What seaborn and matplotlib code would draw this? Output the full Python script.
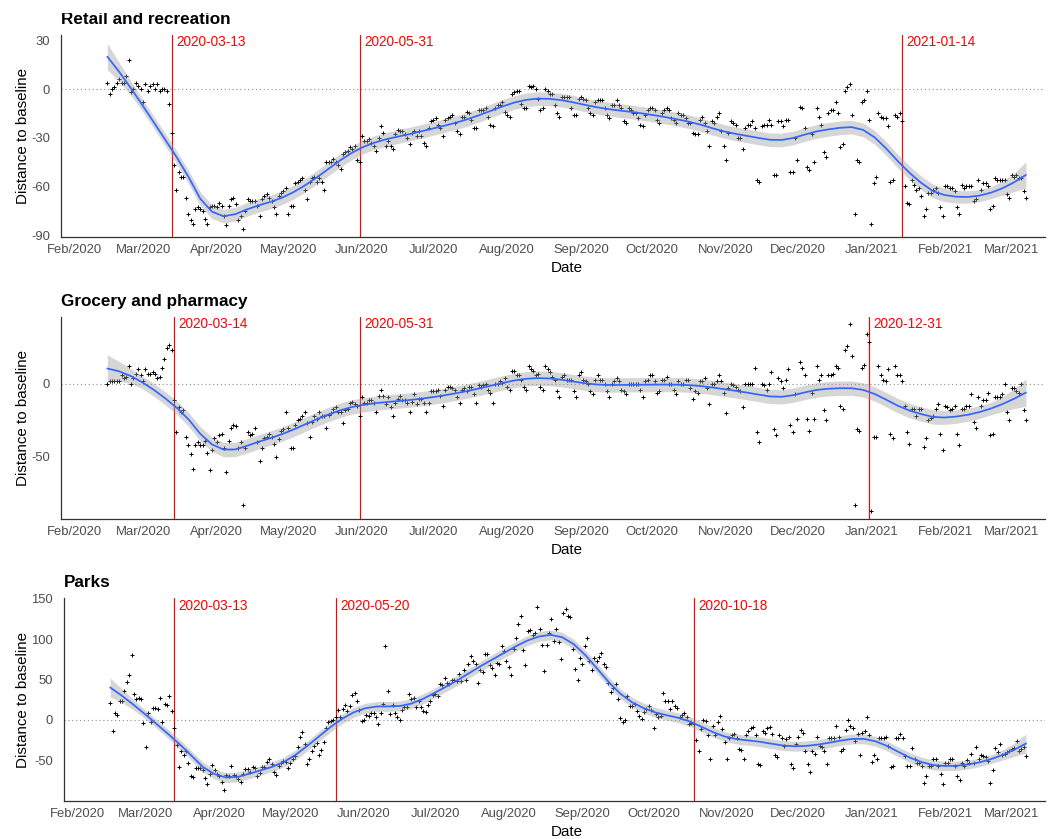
import numpy as np
import pandas as pd
import matplotlib
matplotlib.use("Agg")
import matplotlib.pyplot as plt
import matplotlib.dates as mdates
import matplotlib.transforms as mtransforms
import seaborn as sns

# ---------------------------------------------------------------------------
# Daily mobility change (% vs. baseline), 2020-02-15 .. 2021-03-07
# ---------------------------------------------------------------------------
START = "2020-02-15"

# Retail and recreation
r_feb20 = [4, -3, 0, 1, 4, 6, 4, 4, 8, 18, -2, 0, 4, 2, 0]
r_mar20 = [-8, 3, -1, 2, 3, 0, 3, -1, 0, 0, -1, -9, -27, -47, -62, -51, -54, -54, -67, -77,
           -81, -83, -74, -73, -74, -75, -80, -83, -73, -72, -72]
r_apr20 = [-73, -70, -72, -78, -84, -72, -68, -67, -71, -81, -78, -86, -75, -68, -69, -69, -69,
           -72, -78, -68, -66, -65, -67, -69, -73, -77, -66, -64, -63, -61]
r_may20 = [-77, -72, -72, -58, -57, -56, -55, -62, -68, -57, -55, -54, -57, -55, -57, -62, -45,
           -45, -45, -43, -45, -47, -49, -40, -39, -38, -36, -37, -35, -44, -45]
r_jun20 = [-29, -32, -32, -31, -33, -35, -38, -30, -23, -27, -35, -32, -35, -37, -28, -25, -26,
           -26, -28, -30, -34, -27, -26, -29, -26, -29, -33, -35, -24, -20]
r_jul20 = [-19, -18, -22, -24, -29, -19, -18, -17, -16, -21, -26, -28, -17, -17, -14, -15, -19,
           -24, -24, -13, -13, -13, -12, -17, -22, -23, -12, -10, -10, -8, -14]
r_aug20 = [-16, -17, -3, -2, -1, -1, -9, -12, -12, 2, 1, 2, 0, -6, -13, -12, 0, -1, -3, -3,
           -10, -15, -17, -5, -5, -5, -5, -12, -16, -16, -6]
r_sep20 = [-5, -6, -7, -12, -15, -16, -8, -7, -7, -7, -12, -16, -18, -10, -10, -7, -10, -12,
           -20, -21, -12, -13, -15, -15, -18, -22, -23, -16, -13, -12]
r_oct20 = [-12, -13, -19, -21, -15, -13, -12, -13, -18, -19, -21, -15, -16, -16, -18, -21, -21,
           -27, -28, -28, -19, -17, -21, -26, -35, -20, -21, -17, -15, -26, -35]
r_nov20 = [-44, -27, -20, -21, -22, -30, -30, -37, -24, -22, -22, -20, -24, -56, -57, -23, -22,
           -22, -19, -22, -53, -53, -20, -20, -23, -19, -19, -51, -51, -30]
r_dec20 = [-44, -11, -12, -24, -48, -50, -28, -45, -12, -17, -22, -39, -42, -15, -13, -13, -8,
           -15, -36, -34, -1, 1, 3, -16, -77, -44, -45, -8, -7, -1, -19]
r_jan21 = [-83, -58, -54, -15, -17, -18, -18, -23, -57, -56, -16, -17, -15, -20, -60, -70, -71,
           -56, -59, -62, -61, -66, -78, -74, -64, -64, -62, -61, -64, -73, -78]
r_feb21 = [-60, -60, -61, -61, -63, -73, -77, -59, -61, -60, -60, -60, -69, -68, -56, -62, -58,
           -58, -60, -74, -72, -55, -56, -56, -56, -56, -65, -67]
r_mar21 = [-53, -54, -53, -55, -55, -63, -67]

# Grocery and pharmacy
g_feb20 = [0, 2, 2, 2, 2, 2, 6, 4, 5, 12, 0, 4, 7, 10, 6]
g_mar20 = [2, 10, 7, 7, 8, 7, 4, 5, 11, 17, 25, 27, 23, -11, -33, -16, -19, -18, -36, -42,
           -48, -58, -42, -40, -42, -42, -39, -47, -59, -45, -37]
g_apr20 = [-40, -35, -34, -44, -60, -39, -30, -28, -29, -44, -40, -83, -44, -33, -35, -34, -30,
           -40, -53, -44, -37, -36, -34, -36, -41, -50, -38, -32, -31, -19]
g_may20 = [-30, -44, -44, -28, -25, -24, -22, -19, -27, -36, -26, -22, -24, -19, -22, -22, -30,
           -21, -20, -17, -16, -19, -19, -27, -18, -17, -13, -12, -14, -15, -22]
g_jun20 = [-9, -13, -13, -11, -11, -13, -19, -8, -4, -8, -14, -9, -16, -22, -13, -10, -8, -11,
           -11, -13, -19, -12, -7, -14, -10, -10, -13, -19, -13, -5]
g_jul20 = [-5, -5, -4, -8, -15, -4, -2, -2, -3, -4, -9, -13, -4, -3, -5, -2, -2, -7, -13, -1,
           -2, -1, 0, -4, -6, -13, 0, 0, 2, 1, 4]
g_aug20 = [-2, -4, 9, 9, 6, 6, 3, -2, -4, 12, 10, 9, 6, 7, -2, -4, 12, 10, 8, 5, 3, -5, -9, 5,
           6, 3, 3, 3, -5, -9, 6]
g_sep20 = [8, 3, 2, 0, -5, -7, 3, 6, 3, 3, 0, -5, -9, 0, 2, 4, 2, -4, -5, -7, 0, 0, 0, 0, 0,
           -4, -9, 2, 3, 6]
g_oct20 = [6, 2, -6, -5, 3, 3, 5, 0, 0, -4, -7, 2, 0, 0, 3, 3, -3, -10, -5, -6, 2, 2, 4, -3,
           -14, 0, 0, 2, 6, 2, -6]
g_nov20 = [-20, -3, 0, -1, -2, -4, -5, -16, 0, 0, 0, 0, 11, -33, -40, 0, -1, -4, 0, 8, -31,
           -35, 4, 2, -3, 3, 10, -28, -33, -7]
g_dec20 = [-24, 15, 11, 6, -24, -32, -6, -24, 12, 3, 6, -18, -25, 6, 6, 7, 12, 11, -15, -17,
           23, 26, 41, 19, -83, -31, -32, 11, 13, 34, 29]
g_jan21 = [-87, -36, -36, 12, 6, 3, 2, 10, -34, -37, 12, 6, 6, 2, -15, -33, -41, -17, -17,
           -22, -17, -17, -43, -37, -25, -23, -22, -17, -14, -34, -45]
g_feb21 = [-15, -16, -18, -17, -15, -34, -42, -17, -17, -15, -15, -7, -26, -30, -9, -15, -11,
           -11, -6, -35, -34, -9, -9, -9, -7, 0, -19, -25]
g_mar21 = [-3, -3, -5, -6, 0, -18, -25]

# Parks
p_feb20 = [21, -14, 8, 6, 24, 24, 36, 47, 55, 80, 32, 26, 27, 26, -4]
p_mar20 = [-33, 8, -3, 15, 15, 14, 27, -3, 20, 19, 29, 11, -10, -31, -58, -39, -44, -38, -53,
           -69, -71, -59, -59, -59, -62, -72, -80, -67, -56, -62, -67]
p_apr20 = [-69, -77, -87, -68, -69, -57, -68, -69, -73, -77, -67, -61, -61, -64, -58, -60, -70,
           -66, -58, -58, -52, -48, -55, -64, -68, -57, -54, -51, -52, -60]
p_may20 = [-54, -49, -45, -34, -21, -15, -30, -55, -48, -38, -32, -29, -43, -37, -27, -10, -3,
           -1, 0, 3, 12, 3, 13, 19, 11, 17, 31, 33, 24, 12, -2]
p_jun20 = [0, 6, 5, 8, 9, 4, -5, 8, 20, 92, 36, 7, 18, 8, 3, 0, 12, 16, 16, 32, 26, 27, 16, 24,
           16, 11, 10, 19, 24, 31]
p_jul20 = [32, 29, 44, 43, 52, 46, 45, 49, 50, 48, 57, 48, 62, 50, 69, 79, 73, 69, 46, 62, 59,
           82, 82, 68, 64, 55, 70, 69, 92, 85, 73]
p_aug20 = [65, 55, 88, 101, 119, 129, 86, 68, 110, 111, 105, 108, 140, 112, 93, 60, 93, 108,
           125, 98, 112, 97, 75, 133, 137, 129, 127, 88, 63, 50, 77]
p_sep20 = [69, 92, 102, 73, 62, 77, 73, 78, 83, 69, 65, 46, 35, 40, 44, 26, 2, -3, 0, 29, 17,
           17, 20, 11, 5, 1, 10, 14, 17, 12]
p_oct20 = [-10, 7, 4, 5, 33, 24, 24, 14, 24, 17, 15, 4, 6, 9, 4, -5, -4, -5, -25, -38, -11, 0,
           -2, -19, -48, -7, -19, -3, 5, -11, -27]
p_nov20 = [-48, -23, -19, -18, -23, -36, -37, -48, -19, -14, -10, -9, -19, -55, -56, -14, -16,
           -10, -9, -17, -43, -46, -19, -23, -32, -24, -21, -55, -60, -30]
p_dec20 = [-21, -12, -16, -39, -55, -64, -38, -42, -21, -32, -33, -39, -55, -23, -23, -22, -7,
           -21, -39, -36, -12, 0, -7, -10, -26, -18, -43, -16, -14, 3, -19]
p_jan21 = [-52, -43, -48, -22, -22, -22, -21, -32, -58, -57, -22, -23, -17, -23, -45, -57, -57,
           -35, -48, -53, -54, -57, -78, -69, -57, -57, -48, -48, -57, -67, -79]
p_feb21 = [-54, -54, -48, -49, -57, -69, -75, -53, -57, -50, -53, -42, -53, -33, -48, -43, -45,
           -46, -51, -78, -62, -35, -40, -30, -43, -42, -40, -39]
p_mar21 = [-36, -35, -26, -39, -36, -33, -45]

retail = (r_feb20 + r_mar20 + r_apr20 + r_may20 + r_jun20 + r_jul20 + r_aug20 + r_sep20
          + r_oct20 + r_nov20 + r_dec20 + r_jan21 + r_feb21 + r_mar21)
grocery = (g_feb20 + g_mar20 + g_apr20 + g_may20 + g_jun20 + g_jul20 + g_aug20 + g_sep20
           + g_oct20 + g_nov20 + g_dec20 + g_jan21 + g_feb21 + g_mar21)
parks = (p_feb20 + p_mar20 + p_apr20 + p_may20 + p_jun20 + p_jul20 + p_aug20 + p_sep20
         + p_oct20 + p_nov20 + p_dec20 + p_jan21 + p_feb21 + p_mar21)

titles = ["Retail and recreation", "Grocery and pharmacy", "Parks"]
series = [retail, grocery, parks]
events = [["2020-03-13", "2020-05-31", "2021-01-14"],
          ["2020-03-14", "2020-05-31", "2020-12-31"],
          ["2020-03-13", "2020-05-20", "2020-10-18"]]
y_ticks = [[30, 0, -30, -60, -90], [0, -50], [150, 100, 50, 0, -50]]
y_limits = [(-91.2, 33.3), (-92.5, 45.9), (-100.5, 151.0)]

for name, s in zip(titles, series):
    assert len(s) == 387, (name, len(s))


def loess(x, y, xs, span=0.2):
    """Local quadratic regression with tricube weights and pointwise 95% band."""
    n = len(x)
    q = int(np.floor(n * span))

    def operator(points):
        L = np.empty((len(points), n))
        for k, x0 in enumerate(points):
            d = np.abs(x - x0)
            h = np.sort(d)[q - 1]
            w = np.clip(1 - (d / h) ** 3, 0, None) ** 3
            X = np.column_stack([np.ones(n), x - x0, (x - x0) ** 2])
            XtW = X.T * w
            L[k] = np.linalg.solve(XtW @ X, XtW)[0]
        return L

    L_data = operator(x)
    resid = y - L_data @ y
    I = np.eye(n)
    M = (I - L_data).T @ (I - L_data)
    one_delta = np.trace(M)
    sigma = np.sqrt(np.sum(resid ** 2) / one_delta)
    L = operator(xs)
    fit = L @ y
    se = sigma * np.sqrt(np.sum(L ** 2, axis=1))
    return fit, fit - 1.97 * se, fit + 1.97 * se


sns.set_theme(style="white")
plt.rcParams["font.family"] = ["Liberation Sans", "DejaVu Sans"]
plt.rcParams["axes.unicode_minus"] = False

fig = plt.figure(figsize=(10.51, 8.39), dpi=100)
W, H = 1051.0, 839.0
boxes = [(61, 35, 1045, 237), (61, 317, 1045, 519), (64, 598, 1045, 801)]

x_lo = pd.Timestamp("2020-01-26 13:00")
x_hi = pd.Timestamp("2021-03-15 00:00")
red = "#FF0000"

# the figure's top edge trims the first heading slightly
top_clip = mtransforms.TransformedBbox(
    mtransforms.Bbox([[0, 0], [1, 1 - 12.7 / H]]), fig.transFigure)

for i, (title, vals) in enumerate(zip(titles, series)):
    l, t, r, b = boxes[i]
    ax = fig.add_axes([l / W, 1 - b / H, (r - l) / W, (b - t) / H])
    dates = pd.date_range(START, periods=len(vals), freq="D")
    df = pd.DataFrame({"date": dates, "value": np.asarray(vals, float)})

    day = np.arange(len(vals), dtype=float)
    grid = np.linspace(day[0], day[-1], 80)
    fit, lo, hi = loess(day, df["value"].to_numpy(), grid)
    grid_dates = pd.Timestamp(START) + pd.to_timedelta(grid, unit="D")
    sm = pd.DataFrame({"date": grid_dates, "fit": fit})

    ax.axhline(0, color="#8C8C8C", lw=0.8, ls=(0, (1, 2.5)), zorder=1)
    for ev in events[i]:
        ax.axvline(pd.Timestamp(ev), color=red, lw=0.85, zorder=2)

    sns.scatterplot(data=df, x="date", y="value", marker="+", color="black", s=9,
                    linewidth=0.7, ax=ax, legend=False, zorder=3)
    ax.fill_between(grid_dates, lo, hi, color="#999999", alpha=0.4, lw=0, zorder=4)
    sns.lineplot(data=sm, x="date", y="fit", color="#3366FF", lw=1.25, ax=ax, zorder=5)

    blend = mtransforms.blended_transform_factory(ax.transData, ax.transAxes)
    for ev in events[i]:
        ax.annotate(ev, xy=(mdates.date2num(pd.Timestamp(ev)), 0.963), xycoords=blend,
                    xytext=(3.3, 0), textcoords="offset points", ha="left", va="center",
                    color=red, fontsize=9.8, zorder=6)

    ax.set_xlim(x_lo, x_hi)
    ax.set_ylim(*y_limits[i])
    ax.set_yticks(y_ticks[i])
    ax.xaxis.set_major_locator(mdates.MonthLocator())
    ax.xaxis.set_major_formatter(mdates.DateFormatter("%b/%Y"))

    for side in ["top", "right"]:
        ax.spines[side].set_visible(False)
    for side in ["left", "bottom"]:
        ax.spines[side].set_color("#333333")
        ax.spines[side].set_linewidth(0.9)
    ax.tick_params(axis="both", which="major", direction="out", length=2.9, width=0.8,
                   color="#333333", labelcolor="#4D4D4D", labelsize=9.4)
    ax.tick_params(axis="x", pad=2.4)
    ax.tick_params(axis="y", pad=5)
    ax.grid(False)
    ax.set_xlabel("")
    ax.set_ylabel("")

    ax.text((22.7 - l) / (r - l), 0.5, "Distance to baseline", transform=ax.transAxes,
            rotation=90, ha="center", va="center", fontsize=10.9, color="black")
    ax.text((566.5 - l) / (r - l), -31.0 / (b - t), "Date", transform=ax.transAxes,
            ha="center", va="center", fontsize=10.9, color="black")
    head = ax.annotate(title, xy=(0, 1), xycoords="axes fraction", xytext=(0, 8.2),
                       textcoords="offset points", ha="left", va="baseline",
                       fontsize=12.3, fontweight="bold", color="black")
    if i == 0:
        head.set_clip_box(top_clip)
        head.set_clip_on(True)

fig.savefig("out.png", dpi=100, facecolor="white")
